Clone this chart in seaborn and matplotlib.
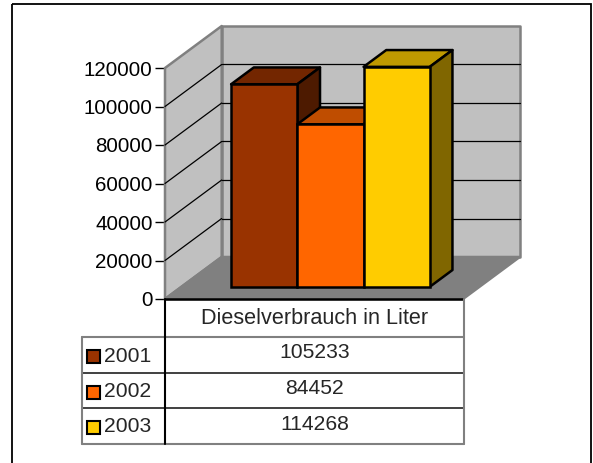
import matplotlib
matplotlib.use("Agg")
import matplotlib.pyplot as plt
import matplotlib.transforms as mtransforms
from matplotlib.patches import Polygon, Rectangle
from matplotlib.lines import Line2D
from matplotlib.colors import to_rgb
import seaborn as sns
import pandas as pd

# --- data -------------------------------------------------------------
YEARS = ["2001", "2002", "2003"]
VALUES = [105233, 84452, 114268]
SERIES_NAME = "Dieselverbrauch in Liter"
Y_TICKS = [0, 20000, 40000, 60000, 80000, 100000, 120000]
COLORS = ["#993300", "#FF6600", "#FFCC00"]

# --- layout (pixels, top-left origin) -----------------------------------
W, H = 593, 463
AX_L, AX_R, AX_T, AX_B = 165, 463, 68, 299
XMIN, XMAX = -1.25, 3.25
YMAX = Y_TICKS[-1]
PX_PER_X = (AX_R - AX_L) / (XMAX - XMIN)
PX_PER_Y = (AX_B - AX_T) / YMAX
DEPTH_DX = 56.7 / PX_PER_X
DEPTH_DY = 42.0 / PX_PER_Y
Z_FRONT, Z_BACK = 0.29, 0.69
WALL = "#C0C0C0"
FLOOR = "#808080"
EDGE_GRAY = "#808080"
TABLE_FS = 15.2

sns.set_style("white")
plt.rcParams["font.family"] = ["Liberation Sans", "DejaVu Sans"]

fig = plt.figure(figsize=(W / 100, H / 100), dpi=100)
ax = fig.add_axes([AX_L / W, 1 - AX_B / H, (AX_R - AX_L) / W, (AX_B - AX_T) / H])
T_PX = mtransforms.Affine2D().scale(1, -1).translate(0, H)


def proj(x, y, z):
    return (x + z * DEPTH_DX, y + z * DEPTH_DY)


def shade(color, f):
    return tuple(c * f for c in to_rgb(color))


def poly(pts, face, edge, lw, z):
    ax.add_patch(Polygon(pts, closed=True, facecolor=face, edgecolor=edge,
                         linewidth=lw, zorder=z, clip_on=False, joinstyle="round"))


# walls and floor
poly([proj(XMIN, 0, 0), proj(XMIN, YMAX, 0), proj(XMIN, YMAX, 1), proj(XMIN, 0, 1)],
     WALL, EDGE_GRAY, 1.8, 1)
poly([proj(XMIN, 0, 1), proj(XMAX, 0, 1), proj(XMAX, YMAX, 1), proj(XMIN, YMAX, 1)],
     WALL, EDGE_GRAY, 1.8, 1)
for t in Y_TICKS[1:-1]:
    for a, b in [((XMIN, t, 0), (XMIN, t, 1)), ((XMIN, t, 1), (XMAX, t, 1))]:
        pa, pb = proj(*a), proj(*b)
        ax.add_line(Line2D([pa[0], pb[0]], [pa[1], pb[1]], color="black",
                           linewidth=0.9, zorder=1.5, clip_on=False))
poly([proj(XMIN, 0, 0), proj(XMAX, 0, 0), proj(XMAX, 0, 1), proj(XMIN, 0, 1)],
     FLOOR, EDGE_GRAY, 1.8, 1.6)
ax.add_line(Line2D([XMIN, XMAX], [0, 0], color="black", linewidth=1.8,
                   zorder=1.7, clip_on=False))

# bars: fronts from seaborn, tops/sides added with a depth offset
df = pd.DataFrame({"Jahr": YEARS, "Liter": VALUES})
sns.barplot(data=df, x="Jahr", y="Liter", hue="Jahr", palette=COLORS, width=1,
            dodge=False, legend=False, saturation=1, edgecolor="black",
            linewidth=1.8, ax=ax)

zx, zy = proj(0, 0, Z_FRONT)
bx, by = DEPTH_DX * (Z_BACK - Z_FRONT), DEPTH_DY * (Z_BACK - Z_FRONT)
bars = sorted(ax.patches[-len(YEARS):], key=lambda p: p.get_x())
for i, (p, col) in enumerate(zip(bars, COLORS)):
    p.set_x(p.get_x() + zx)
    p.set_y(zy)
    p.set_zorder(3 + i * 0.1 + 0.05)
    p.set_clip_on(False)
    x0, x1 = p.get_x(), p.get_x() + p.get_width()
    y0, y1 = zy, zy + p.get_height()
    poly([(x0, y1), (x1, y1), (x1 + bx, y1 + by), (x0 + bx, y1 + by)],
         shade(col, 0.75), "black", 1.8, 3 + i * 0.1)
    poly([(x1, y0), (x1, y1), (x1 + bx, y1 + by), (x1 + bx, y0 + by)],
         shade(col, 0.5), "black", 1.8, 3 + i * 0.1)

ax.set_xlim(XMIN, XMAX)
ax.set_ylim(0, YMAX)
ax.set_yticks(Y_TICKS)
ax.set_yticklabels([str(t) for t in Y_TICKS])
ax.tick_params(axis="y", left=True, length=7, width=1, color="black", pad=2,
               labelsize=14.8, labelcolor="black")
ax.tick_params(axis="x", bottom=False, labelbottom=False)
ax.set_xlabel("")
ax.set_ylabel("")
for s in ax.spines.values():
    s.set_visible(False)
ax.patch.set_visible(False)

# data table
TBL_L, COL_X, TBL_R = 82, 165, 464
ROW_Y = [299, 337, 373, 408, 444]


def hline(y, x0, x1, color, lw):
    fig.add_artist(Line2D([x0, x1], [y, y], color=color, linewidth=lw, transform=T_PX))


def vline(x, y0, y1, color, lw):
    fig.add_artist(Line2D([x, x], [y0, y1], color=color, linewidth=lw, transform=T_PX))


mid_x = (COL_X + TBL_R) / 2
fig.text(mid_x, (ROW_Y[0] + ROW_Y[1]) / 2 + 1, SERIES_NAME, transform=T_PX,
         ha="center", va="center", fontsize=TABLE_FS + 0.4)
hline(ROW_Y[1], TBL_L, TBL_R, EDGE_GRAY, 1.5)
for y in ROW_Y[2:4]:
    hline(y, TBL_L, TBL_R, "#202020", 1.2)
hline(ROW_Y[4], TBL_L, TBL_R, EDGE_GRAY, 1.5)
vline(TBL_L, ROW_Y[1], ROW_Y[4], EDGE_GRAY, 1.5)
vline(TBL_R, ROW_Y[0], ROW_Y[4], EDGE_GRAY, 1.5)
vline(COL_X, ROW_Y[0], ROW_Y[4], "black", 1.5)

for i, (year, val, col) in enumerate(zip(YEARS, VALUES, COLORS)):
    cy = (ROW_Y[i + 1] + ROW_Y[i + 2]) / 2
    fig.add_artist(Rectangle((87, cy - 5), 13, 13, facecolor=col, edgecolor="black",
                             linewidth=1.5, transform=T_PX))
    fig.text(104, cy + 1, year, transform=T_PX, ha="left", va="center",
             fontsize=TABLE_FS)
    fig.text(mid_x, cy - 2, str(val), transform=T_PX, ha="center", va="center",
             fontsize=TABLE_FS)

# outer frame
fig.add_artist(Rectangle((12, 4), 579, 490, facecolor="none", edgecolor="black",
                         linewidth=1.3, transform=T_PX))

fig.savefig("out.png", dpi=100, facecolor="white")
